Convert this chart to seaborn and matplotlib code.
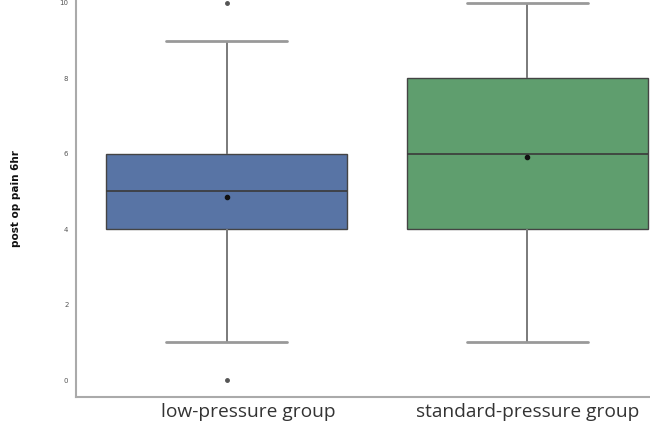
import matplotlib
matplotlib.use("Agg")
import matplotlib.pyplot as plt
import matplotlib.transforms as mtransforms
import pandas as pd
import seaborn as sns

# pain scores and how many patients gave each score
groups = ["low-pressure group", "standard-pressure group"]
scores = [0, 1, 2, 3, 4, 5, 6, 7, 8, 9, 10]
low_counts = [1, 1, 2, 5, 8, 10, 8, 2, 2, 1, 1]
std_counts = [0, 2, 3, 3, 3, 5, 6, 4, 12, 2, 1]
y_ticks = [0, 2, 4, 6, 8, 10]

rows = []
for g, counts in zip(groups, [low_counts, std_counts]):
    for s, c in zip(scores, counts):
        rows += [(g, s)] * c
df = pd.DataFrame(rows, columns=["group", "pain"])

sns.set_style("white")
fig = plt.figure(figsize=(6.5, 4.26), dpi=100)
ax = fig.add_axes([0.117, 0.068, 0.926, 0.934])

sns.boxplot(data=df, x="group", y="pain", hue="group", order=groups,
            palette=["#5874a5", "#5f9e6e"], saturation=1, width=0.8,
            showmeans=True, legend=False, ax=ax,
            boxprops={"edgecolor": "#444444", "linewidth": 1.0},
            medianprops={"color": "#3a3a3a", "linewidth": 1.2},
            whiskerprops={"color": "#7a7a7a", "linewidth": 1.4},
            capprops={"color": "#999999", "linewidth": 2},
            meanprops={"marker": "o", "markerfacecolor": "#111111",
                       "markeredgecolor": "#111111", "markersize": 3},
            flierprops={"marker": "o", "markerfacecolor": "#555555",
                        "markeredgecolor": "#555555", "markersize": 2.5})

ax.set_xlim(-0.5, 1.5)
ax.set_ylim(-0.45, 10.1)
ax.set_yticks(y_ticks)
ax.tick_params(axis="y", labelsize=5, labelcolor="#555555", length=2, color="#aaaaaa")
ax.tick_params(axis="x", labelsize=13.8, labelcolor="#333333", length=2, color="#aaaaaa", pad=2)
for lab in ax.get_xticklabels():
    lab.set_fontfamily("Open Sans")
# the first label sits a little right of its box in the original
lab0 = ax.get_xticklabels()[0]
lab0.set_transform(lab0.get_transform() + mtransforms.ScaledTranslation(0.22, 0, fig.dpi_scale_trans))
ax.set_xlabel("")
ax.set_ylabel("post op pain 6hr", fontsize=7.5, fontweight="bold", labelpad=28, color="#111111")
for side in ["top", "right"]:
    ax.spines[side].set_visible(False)
for side in ["left", "bottom"]:
    ax.spines[side].set_color("#aaaaaa")
    ax.spines[side].set_linewidth(1.5)

fig.savefig("out.png", dpi=100)
